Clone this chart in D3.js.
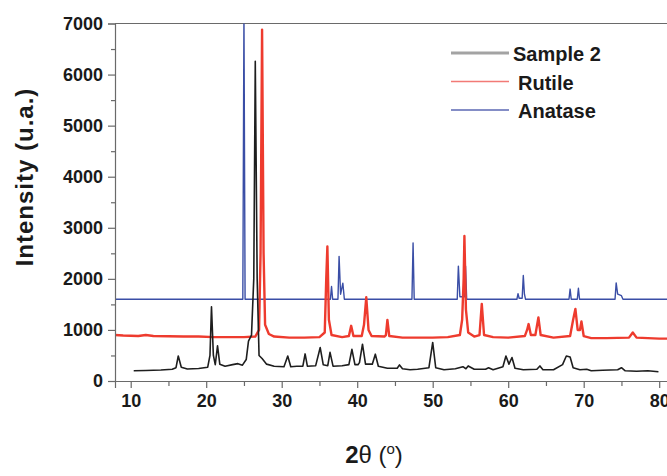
<!DOCTYPE html>
<html>
<head>
<meta charset="utf-8">
<script src="https://cdn.jsdelivr.net/npm/d3@7"></script>
<style>
  body { margin: 0; background: #fff; }
  svg { display: block; font-family: "Liberation Sans", Arial, Helvetica, sans-serif; }
</style>
</head>
<body>
<div id="chart"></div>
<script>
// values: [2theta, intensity]
const sample2 = [
  [10.4,200],[12,205],[14,215],[15.5,230],[16.0,260],[16.3,490],[16.7,270],[17.5,235],[19,245],
  [20.2,270],[20.5,500],[20.7,1455],[20.95,500],[21.2,320],[21.5,690],[21.8,330],[22.5,290],
  [23.5,320],[24.2,340],[24.8,310],[25.3,420],[25.6,780],[26.0,900],[26.3,2000],[26.5,6260],
  [26.75,2000],[27.0,500],[27.4,440],[28,330],[29,290],[30.3,280],[30.8,490],[31.2,280],[32,290],
  [32.8,290],[33.1,530],[33.4,290],[34.5,300],[35.1,655],[35.5,320],[36.1,300],[36.4,560],
  [36.8,290],[38,300],[38.9,320],[39.3,620],[39.7,320],[40.1,320],[40.3,360],[40.7,720],[41.1,330],
  [42.0,330],[42.4,525],[42.8,290],[44,250],[45.3,250],[45.6,315],[46,240],[47,220],[48,230],
  [49.5,260],[50.0,755],[50.4,260],[51.5,220],[53,240],[54.0,280],[54.4,240],[54.7,295],[55.5,230],
  [57,230],[57.4,260],[58,220],[59.3,280],[59.7,490],[60.1,330],[60.5,460],[60.9,250],[62,220],
  [63.8,230],[64.2,295],[64.6,220],[66,220],[67.2,320],[67.7,490],[68.2,470],[68.6,260],[69.5,220],
  [70.4,230],[71,200],[72.5,210],[74.5,220],[75.0,260],[75.5,200],[77,190],[78.5,200],[79.9,180]
];

const rutile = [
  [7.9,900],[9,890],[11,880],[12,900],[13,880],[15,875],[17,870],[19,870],[21,860],[23,860],[25,860],
  [26.5,870],[27.0,1000],[27.2,2500],[27.4,6880],[27.6,2500],[27.8,1100],[28.3,920],[29,870],
  [31,850],[33,850],[35,860],[35.7,950],[35.9,2000],[36.05,2635],[36.25,1200],[36.6,900],[38,860],
  [38.9,880],[39.2,1080],[39.5,880],[40.6,880],[40.9,1100],[41.2,1640],[41.5,1000],[41.9,880],
  [43.6,870],[43.8,900],[44.0,1195],[44.25,880],[46,850],[48,850],[50,850],[52,860],[53.6,900],
  [53.9,1200],[54.1,2000],[54.2,2840],[54.4,1400],[54.7,950],[55.5,870],[56.2,900],[56.5,1510],
  [56.8,900],[58,860],[60,850],[62.2,880],[62.5,1000],[62.7,1115],[63,900],[63.6,900],[64.0,1245],
  [64.3,900],[66,850],[68.2,880],[68.6,1200],[68.9,1410],[69.2,1000],[69.5,1000],[69.7,1165],
  [70,880],[71,840],[73,840],[76,850],[76.5,950],[77,850],[80,830],[82,830],[85,830],[88,820]
];

const anatase = [
  [7.9,1600],[24.85,1600],[25.0,7200],[25.15,1600],[36.45,1600],[36.6,1850],[36.75,1600],
  [37.45,1600],[37.6,2440],[37.8,1700],[38.1,1915],[38.3,1600],[47.25,1600],[47.4,2705],
  [47.55,1600],[53.25,1600],[53.4,2250],[53.6,1650],[54.2,1650],[54.35,2250],[54.5,1600],
  [61.15,1600],[61.3,1710],[61.45,1620],[61.85,1620],[62.0,2065],[62.15,1700],[62.3,1600],
  [68.05,1600],[68.2,1800],[68.35,1600],[69.15,1600],[69.3,1815],[69.45,1600],[74.15,1600],
  [74.3,1920],[74.5,1700],[75.0,1670],[75.2,1600],[88,1600]
];

const xTicks = [10, 20, 30, 40, 50, 60, 70, 80];
const xMinor = [15, 25, 35, 45, 55, 65, 75];
const yTicks = [0, 1000, 2000, 3000, 4000, 5000, 6000, 7000];
const yMinor = [500, 1500, 2500, 3500, 4500, 5500, 6500];

const seriesNames = ["Sample 2", "Rutile", "Anatase"];
const seriesData = [sample2, rutile, anatase];
const lineColors = ["#1e1e1e", "#ee3b2e", "#3a4ea6"];
const legendColors = ["#a3a3a3", "#f27a76", "#5b67b3"];

const width = 667, height = 476;
const axisColor = "#6a6a6a";

const svg = d3.select("#chart")
  .append("svg")
  .attr("width", width)
  .attr("height", height);

const x = d3.scaleLinear().domain([7.92, 88]).range([115, 719.6]);
const y = d3.scaleLinear().domain([0, 7000]).range([381, 23.5]);

svg.append("clipPath")
  .attr("id", "plot-clip")
  .append("rect")
  .attr("x", x(7.92))
  .attr("y", y(7000))
  .attr("width", x(88) - x(7.92))
  .attr("height", y(0) - y(7000));

// top frame line
svg.append("line")
  .attr("x1", x(7.92)).attr("x2", x(88))
  .attr("y1", y(7000)).attr("y2", y(7000))
  .attr("stroke", axisColor)
  .attr("stroke-width", 1.2);

const line = d3.line()
  .x(d => x(d[0]))
  .y(d => y(d[1]));

const plot = svg.append("g").attr("clip-path", "url(#plot-clip)");

// draw anatase first, sample on top
[2, 1, 0].forEach(i => {
  plot.append("path")
    .datum(seriesData[i])
    .attr("fill", "none")
    .attr("stroke", lineColors[i])
    .attr("stroke-width", i === 1 ? 2.4 : (i === 0 ? 1.6 : 1.4))
    .attr("stroke-linejoin", "round")
    .attr("d", line);
});

// axes
svg.append("g")
  .attr("transform", `translate(0,${y(0)})`)
  .call(d3.axisBottom(x).tickValues(xTicks).tickSize(7).tickPadding(6).tickFormat(d3.format("d")));

svg.append("g")
  .attr("transform", `translate(0,${y(0)})`)
  .call(d3.axisBottom(x).tickValues(xMinor).tickSize(5).tickFormat(""))
  .select(".domain").remove();

svg.append("g")
  .attr("transform", `translate(${x(7.92)},0)`)
  .call(d3.axisLeft(y).tickValues(yTicks).tickSize(7).tickPadding(5).tickFormat(d3.format("d")));

svg.append("g")
  .attr("transform", `translate(${x(7.92)},0)`)
  .call(d3.axisLeft(y).tickValues(yMinor).tickSize(4).tickFormat(""))
  .select(".domain").remove();

svg.selectAll(".domain, .tick line")
  .attr("stroke", axisColor)
  .attr("stroke-width", 1.2);

svg.selectAll(".tick text")
  .attr("fill", "#1a1a1a")
  .style("font-size", "18px")
  .style("font-weight", "bold");

// axis titles
svg.append("text")
  .attr("transform", "translate(33,177) rotate(-90)")
  .attr("text-anchor", "middle")
  .attr("fill", "#1a1a1a")
  .style("font-size", "24px")
  .style("font-weight", "bold")
  .style("letter-spacing", "1px")
  .text("Intensity (u.a.)");

const xTitle = svg.append("text")
  .attr("x", 374)
  .attr("y", 463)
  .attr("text-anchor", "middle")
  .attr("fill", "#1a1a1a")
  .style("font-size", "24px");

xTitle.append("tspan").style("font-weight", "bold").text("2");
xTitle.append("tspan").text("θ (");
xTitle.append("tspan").attr("dy", -9).style("font-size", "15px").text("o");
xTitle.append("tspan").attr("dy", 9).text(")");

// legend
const legend = svg.append("g");
seriesNames.forEach((name, i) => {
  const ly = 53 + i * 28.5;
  legend.append("line")
    .attr("x1", 451).attr("x2", 509)
    .attr("y1", ly).attr("y2", ly)
    .attr("stroke", legendColors[i])
    .attr("stroke-width", i === 0 ? 3 : 1.6);
  legend.append("text")
    .attr("x", i === 0 ? 513 : 518)
    .attr("y", ly + 8)
    .attr("fill", "#1a1a1a")
    .style("font-size", "20px")
    .style("font-weight", "bold")
    .text(name);
});
</script>
</body>
</html>
